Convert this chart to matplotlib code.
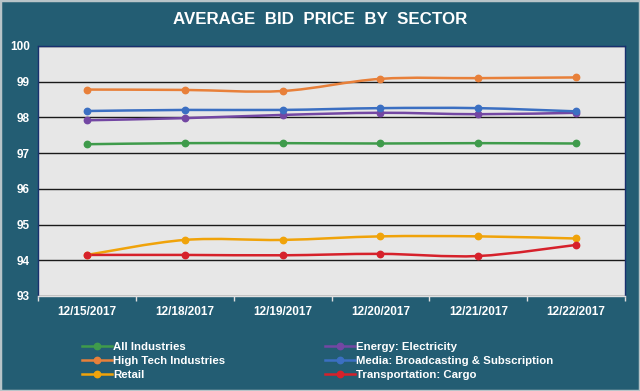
import matplotlib
matplotlib.use("Agg")
import matplotlib.pyplot as plt
from matplotlib.path import Path
from matplotlib.patches import PathPatch, Rectangle
from matplotlib.lines import Line2D
import numpy as np

plt.rcParams['font.family'] = ['Liberation Sans', 'DejaVu Sans']

dates = ["12/15/2017", "12/18/2017", "12/19/2017", "12/20/2017", "12/21/2017", "12/22/2017"]

all_industries = [97.25, 97.28, 97.28, 97.27, 97.28, 97.27]
energy = [97.92, 97.98, 98.07, 98.13, 98.09, 98.13]
high_tech = [98.78, 98.77, 98.74, 99.08, 99.10, 99.12]
media = [98.18, 98.21, 98.21, 98.26, 98.26, 98.17]
retail = [94.15, 94.57, 94.57, 94.67, 94.67, 94.61]
transport = [94.15, 94.15, 94.14, 94.18, 94.12, 94.43]

series = [
    ("All Industries", all_industries, "#3f9b4b"),
    ("High Tech Industries", high_tech, "#e8803a"),
    ("Retail", retail, "#f0a30a"),
    ("Energy: Electricity", energy, "#7347a3"),
    ("Media: Broadcasting & Subscription", media, "#3b6fc2"),
    ("Transportation: Cargo", transport, "#d6212b"),
]

bg = "#235d73"


def smooth_path(x, y):
    # Catmull-Rom style bezier segments, like excel's smoothed lines
    pts = np.column_stack([x, y]).astype(float)
    n = len(pts)
    verts = [pts[0]]
    codes = [Path.MOVETO]
    for i in range(n - 1):
        p0 = pts[i - 1] if i > 0 else pts[i]
        p1 = pts[i]
        p2 = pts[i + 1]
        p3 = pts[i + 2] if i + 2 < n else pts[i + 1]
        c1 = p1 + (p2 - p0) / 6.0
        c2 = p2 - (p3 - p1) / 6.0
        verts += [c1, c2, p2]
        codes += [Path.CURVE4] * 3
    return Path(verts, codes)


fig = plt.figure(figsize=(6.4, 3.91), dpi=100, facecolor=bg)
ax = fig.add_axes([38 / 640, 1 - 296 / 391, (625 - 38) / 640, (296 - 46) / 391])
ax.set_facecolor("#e7e7e7")

x = np.arange(len(dates))
for name, vals, col in series:
    ax.add_patch(PathPatch(smooth_path(x, vals), facecolor="none", edgecolor=col,
                           lw=1.8, zorder=3, capstyle="round"))
    ax.plot(x, vals, ls="none", marker="o", ms=4.6, color=col, zorder=4)

ax.set_xlim(-0.5, len(dates) - 0.5)
ax.set_ylim(93, 100)
ax.set_yticks(range(93, 101))
ax.set_xticks(x)
ax.set_xticklabels(dates)
ax.set_xticks(np.arange(-0.5, len(dates), 1.0), minor=True)
ax.tick_params(axis="x", which="major", length=0, pad=7, labelsize=8.5, labelcolor="white")
ax.tick_params(axis="x", which="minor", length=3.5, color="#e0e0e0", width=1)
ax.tick_params(axis="y", length=0, pad=6, labelsize=8.5, labelcolor="white")
for lab in ax.get_xticklabels() + ax.get_yticklabels():
    lab.set_fontweight("bold")

ax.grid(axis="y", color="#1a1a1a", lw=1.0, zorder=1)
ax.set_axisbelow(True)
for s in ["left", "right", "top"]:
    ax.spines[s].set_color("#18306e")
    ax.spines[s].set_linewidth(1.0)
ax.spines["bottom"].set_color("#e0e0e0")
ax.spines["bottom"].set_linewidth(1.0)

fig.text(0.5, 1 - 20 / 391, "AVERAGE  BID  PRICE  BY  SECTOR", ha="center", va="center",
         color="white", fontsize=12.2, fontweight="bold")

handles = [Line2D([0], [0], color=c, lw=1.8, marker="o", ms=4.6) for _, _, c in series]
labels = [n for n, _, _ in series]
leg = fig.legend(handles, labels, ncol=2, loc="upper left",
                 bbox_to_anchor=(82 / 640, 1 - 342 / 391), frameon=False,
                 fontsize=8.2, handlelength=2.6, handletextpad=0.15,
                 columnspacing=8.75, labelspacing=0.36, borderaxespad=0, borderpad=0)
for t in leg.get_texts():
    t.set_color("white")
    t.set_fontweight("bold")

fig.patches.append(Rectangle((0, 0), 1, 1, transform=fig.transFigure, fill=False,
                             edgecolor="#b8c4c8", lw=2.5))

fig.savefig("out.png", dpi=100, facecolor=bg)
